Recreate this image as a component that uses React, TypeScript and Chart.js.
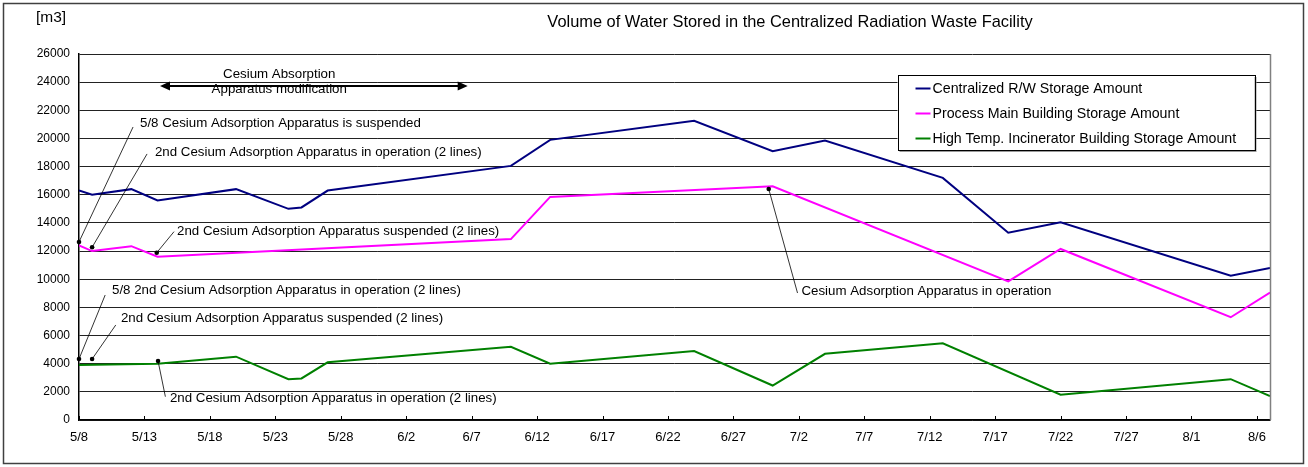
import React, { useEffect, useRef } from 'react';
import { Chart, registerables } from 'chart.js';

Chart.register(...registerables);

const FONT = '"Liberation Sans", Arial, Helvetica, sans-serif';

// Day offsets from 5/8 for the x axis ticks and their labels
const xTickDays = [0, 5, 10, 15, 20, 25, 30, 35, 40, 45, 50, 55, 60, 65, 70, 75, 80, 85, 90];
const xTickLabels = ['5/8', '5/13', '5/18', '5/23', '5/28', '6/2', '6/7', '6/12', '6/17', '6/22', '6/27', '7/2', '7/7', '7/12', '7/17', '7/22', '7/27', '8/1', '8/6'];
const xMaxDay = 91;

const yMin = 0;
const yMax = 26000;
const yStep = 2000;

const chartTitle = 'Volume of Water Stored in the Centralized Radiation Waste Facility';
const yUnit = '[m3]';

const seriesLabels = [
  'Centralized R/W Storage Amount',
  'Process Main Building Storage Amount',
  'High Temp. Incinerator Building Storage Amount',
];
const seriesColors = ['#000080', '#FF00FF', '#008000'];

// Centralized R/W storage amount
const centralDays = [0, 1, 4, 6, 12, 16, 17, 19, 33, 36, 47, 53, 57, 66, 71, 75, 88, 91];
const centralValues = [16300, 16000, 16400, 15600, 16400, 15000, 15100, 16300, 18050, 19900, 21250, 19100, 19850, 17200, 13300, 14050, 10250, 10800];

// Process main building storage amount
const processDays = [0, 1, 4, 6, 33, 36, 53, 71, 75, 88, 91];
const processValues = [12400, 12000, 12350, 11600, 12850, 15850, 16600, 9850, 12150, 7300, 9050];

// High temp. incinerator building storage amount
const incinDays = [0, 6, 12, 16, 17, 19, 33, 36, 47, 53, 57, 66, 75, 88, 91];
const incinValues = [3900, 4000, 4500, 2900, 2950, 4100, 5200, 4000, 4900, 2450, 4700, 5450, 1800, 2900, 1700];

// Callouts: dot, leader end, text anchor (all in day / m3 data coordinates)
const callouts = [
  { text: '5/8 Cesium Adsorption Apparatus is suspended', dot: [0, 12650], end: [4.13, 20815], at: [4.66, 21100] },
  { text: '2nd Cesium Adsorption Apparatus in operation (2 lines)', dot: [1, 12270], end: [5.2, 18900], at: [5.8, 18990] },
  { text: '2nd Cesium Adsorption Apparatus suspended (2 lines)', dot: [5.94, 11885], end: [7.26, 13380], at: [7.49, 13430] },
  { text: '5/8 2nd Cesium Adsorption Apparatus in operation (2 lines)', dot: [0, 4330], end: [2.0, 8880], at: [2.52, 9235] },
  { text: '2nd Cesium Adsorption Apparatus suspended (2 lines)', dot: [1, 4330], end: [2.81, 6750], at: [3.2, 7225] },
  { text: '2nd Cesium Adsorption Apparatus in operation (2 lines)', dot: [6.04, 4190], end: [6.6, 1655], at: [6.95, 1563] },
  { text: 'Cesium Adsorption Apparatus in operation', dot: [52.7, 16410], end: [54.9, 9020], at: [55.2, 9165] },
];

const arrowSpan = { from: 6.19, to: 29.7, value: 23727 };
const arrowText = [
  { text: 'Cesium Absorption', at: [15.3, 24580] },
  { text: 'Apparatus modification', at: [15.3, 23515] },
];

function toPoints(days: number[], values: number[]) {
  return days.map((d, i) => ({ x: d, y: values[i] }));
}

const decorPlugin = {
  id: 'decor',
  beforeDraw(chart: any) {
    const ctx = chart.ctx;
    ctx.save();
    ctx.fillStyle = '#ffffff';
    ctx.fillRect(0, 0, chart.width, chart.height);
    ctx.restore();
  },
  afterDraw(chart: any) {
    const { ctx, chartArea } = chart;
    const xs = chart.scales.x;
    const ys = chart.scales.y;
    const px = (d: number) => xs.getPixelForValue(d);
    const py = (v: number) => ys.getPixelForValue(v);
    ctx.save();

    // right border of plot
    ctx.strokeStyle = '#808080';
    ctx.lineWidth = 1.5;
    ctx.beginPath();
    ctx.moveTo(Math.round(chartArea.right) + 0.5, chartArea.top);
    ctx.lineTo(Math.round(chartArea.right) + 0.5, chartArea.bottom);
    ctx.stroke();

    // tick marks pointing inside
    ctx.strokeStyle = '#000';
    ctx.lineWidth = 1;
    xTickDays.forEach((d) => {
      const x = Math.round(px(d)) + 0.5;
      ctx.beginPath();
      ctx.moveTo(x, chartArea.bottom);
      ctx.lineTo(x, chartArea.bottom - 4);
      ctx.stroke();
    });

    // callouts
    ctx.font = `13.3px ${FONT}`;
    ctx.textBaseline = 'middle';
    ctx.textAlign = 'left';
    callouts.forEach((c) => {
      const dx = px(c.dot[0]);
      const dy = py(c.dot[1]);
      ctx.strokeStyle = '#000';
      ctx.lineWidth = 0.8;
      ctx.beginPath();
      ctx.moveTo(dx, dy);
      ctx.lineTo(px(c.end[0]), py(c.end[1]));
      ctx.stroke();
      ctx.fillStyle = '#000';
      ctx.beginPath();
      ctx.arc(dx, dy, 2.3, 0, Math.PI * 2);
      ctx.fill();
      ctx.fillText(c.text, px(c.at[0]), py(c.at[1]));
    });

    // modification arrow text
    ctx.textAlign = 'center';
    arrowText.forEach((t) => {
      ctx.fillText(t.text, px(t.at[0]), py(t.at[1]));
    });
    // double headed arrow
    const ax1 = px(arrowSpan.from);
    const ax2 = px(arrowSpan.to);
    const ay = py(arrowSpan.value);
    ctx.lineWidth = 2;
    ctx.beginPath();
    ctx.moveTo(ax1 + 6, ay);
    ctx.lineTo(ax2 - 6, ay);
    ctx.stroke();
    ctx.beginPath();
    ctx.moveTo(ax1, ay);
    ctx.lineTo(ax1 + 10, ay - 4.5);
    ctx.lineTo(ax1 + 10, ay + 4.5);
    ctx.closePath();
    ctx.fill();
    ctx.beginPath();
    ctx.moveTo(ax2, ay);
    ctx.lineTo(ax2 - 10, ay - 4.5);
    ctx.lineTo(ax2 - 10, ay + 4.5);
    ctx.closePath();
    ctx.fill();

    // legend box
    const lx = chartArea.right - 372.5;
    const ly = chartArea.top + 21;
    const lw = 357;
    const lh = 75;
    ctx.fillStyle = '#9a9a9a';
    ctx.fillRect(lx + 2, ly + 2, lw, lh);
    ctx.fillStyle = '#ffffff';
    ctx.fillRect(lx, ly, lw, lh);
    ctx.strokeStyle = '#000';
    ctx.lineWidth = 1;
    ctx.strokeRect(Math.round(lx) + 0.5, Math.round(ly) + 0.5, lw, lh);
    ctx.font = `14.2px ${FONT}`;
    ctx.textAlign = 'left';
    ctx.textBaseline = 'middle';
    chart.data.datasets.forEach((ds: any, i: number) => {
      const rowY = ly + 13.5 + i * 25;
      ctx.strokeStyle = ds.borderColor;
      ctx.lineWidth = 2;
      ctx.beginPath();
      ctx.moveTo(lx + 18, rowY);
      ctx.lineTo(lx + 33, rowY);
      ctx.stroke();
      ctx.fillStyle = '#000';
      ctx.fillText(ds.label, lx + 35, rowY + 0.5);
    });

    // title and unit
    ctx.fillStyle = '#000';
    ctx.font = `16.4px ${FONT}`;
    ctx.textAlign = 'center';
    ctx.fillText(chartTitle, 790, 22);
    ctx.font = `15.5px ${FONT}`;
    ctx.textAlign = 'left';
    ctx.fillText(yUnit, 36, 18);

    // outer frame
    ctx.strokeStyle = '#404040';
    ctx.lineWidth = 1.5;
    ctx.strokeRect(3.5, 3.5, 1300, 460);

    ctx.restore();
  },
};

export default function App() {
  const canvasRef = useRef<HTMLCanvasElement | null>(null);

  useEffect(() => {
    document.body.style.margin = '0';
    const canvas = canvasRef.current;
    if (!canvas) return;
    const chart = new Chart(canvas, {
      type: 'line',
      data: {
        datasets: [
          { label: seriesLabels[0], data: toPoints(centralDays, centralValues), borderColor: seriesColors[0], backgroundColor: seriesColors[0], borderWidth: 2, pointRadius: 0, tension: 0, fill: false },
          { label: seriesLabels[1], data: toPoints(processDays, processValues), borderColor: seriesColors[1], backgroundColor: seriesColors[1], borderWidth: 2, pointRadius: 0, tension: 0, fill: false },
          { label: seriesLabels[2], data: toPoints(incinDays, incinValues), borderColor: seriesColors[2], backgroundColor: seriesColors[2], borderWidth: 2, pointRadius: 0, tension: 0, fill: false },
        ],
      },
      options: {
        animation: false,
        responsive: false,
        devicePixelRatio: 1,
        layout: { padding: { top: 54, right: 38, left: 0, bottom: 0 } },
        plugins: {
          legend: { display: false },
          title: { display: false },
          tooltip: { enabled: false },
        },
        scales: {
          x: {
            type: 'linear',
            min: 0,
            max: xMaxDay,
            bounds: 'data',
            afterBuildTicks: (scale: any) => {
              scale.ticks = xTickDays.map((v) => ({ value: v }));
            },
            afterFit: (scale: any) => {
              scale.height = 47;
            },
            ticks: {
              autoSkip: false,
              maxRotation: 0,
              padding: 10,
              color: '#000',
              font: { family: FONT, size: 13 },
              callback: (value: any) => {
                const idx = xTickDays.indexOf(Number(value));
                return idx >= 0 ? xTickLabels[idx] : '';
              },
            },
            grid: { display: false, drawTicks: false },
            border: { display: true, color: '#000', width: 1.5 },
          },
          y: {
            type: 'linear',
            min: yMin,
            max: yMax,
            afterFit: (scale: any) => {
              scale.width = 79;
            },
            ticks: {
              stepSize: yStep,
              padding: 9,
              color: '#000',
              font: { family: FONT, size: 12 },
              callback: (value: any) => String(value),
            },
            grid: { color: '#222', lineWidth: 1, drawTicks: false },
            border: { display: true, color: '#000', width: 1.5 },
          },
        },
      },
      plugins: [decorPlugin],
    } as any);
    return () => chart.destroy();
  }, []);

  return (
    <div style={{ position: 'fixed', left: 0, top: 0, width: 1308, height: 467 }}>
      <canvas ref={canvasRef} width={1308} height={467} style={{ width: 1308, height: 467, display: 'block' }} />
    </div>
  );
}
